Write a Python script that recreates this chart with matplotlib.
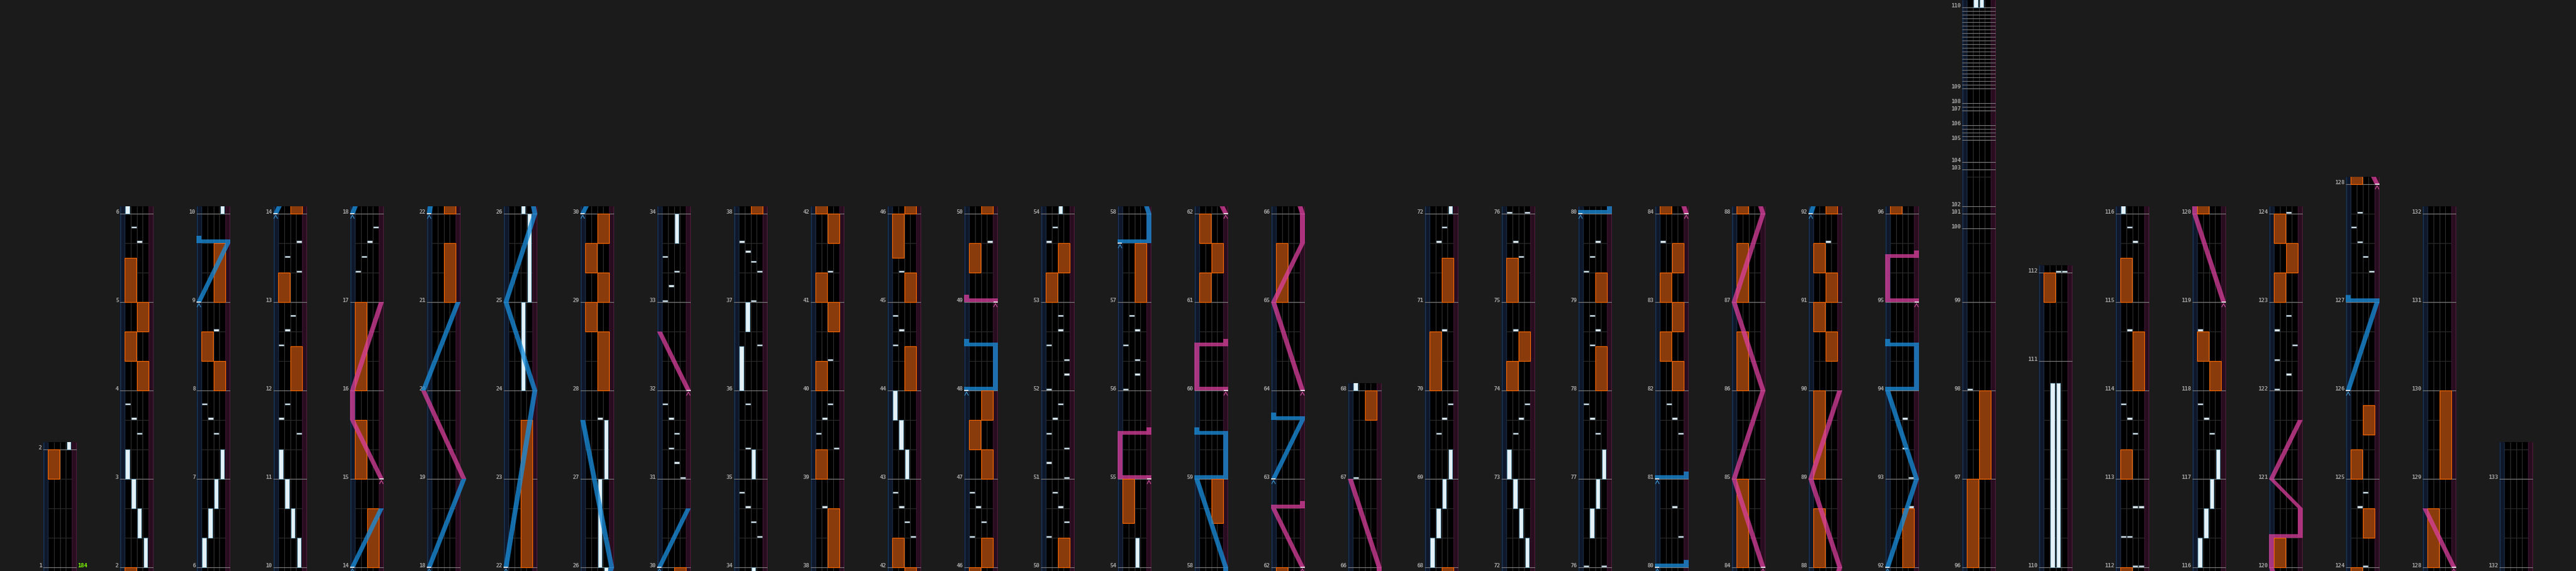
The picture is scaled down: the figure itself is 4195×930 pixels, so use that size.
import numpy as np
import matplotlib
matplotlib.use('Agg')
import matplotlib.pyplot as plt
from matplotlib.patches import Rectangle, PathPatch
from matplotlib.path import Path

# ---------------- chart data ----------------
last_measure = 133
# measure length in beats (all others are 3 beats)
measure_beats = {1: 4, 99: 2.5, 100: 0.5, 101: 0.24, 102: 1.26, 103: 0.25, 104: 0.75,
                 105: 0.5, 106: 0.5, 107: 0.25, 108: 0.5, 109: 2.75, 110: 7, 127: 4}
# extra grey lines: (measure, number of equal parts)
sub_divisions = [(105, 4), (107, 2), (109, 22)]
bpm_label = '184'

# one panel per column: first measure shown
col_start = [1, 2, 6, 10, 14, 18, 22, 26, 30, 34, 38, 42, 46, 50, 54, 58, 62, 66,
             68, 72, 76, 80, 84, 88, 92, 96, 110, 112, 116, 120, 124, 128, 132]
col_end = col_start[1:] + [133.333]

# BT long notes: (start, end, lane 0-3)
bt_holds = [
    (2.0, 2.333, 3), (2.333, 2.667, 2), (2.667, 3.0, 1), (3.0, 3.333, 0),
    (6.0, 6.333, 0), (6.333, 6.667, 1), (6.667, 7.0, 2), (7.0, 7.333, 3),
    (10.0, 10.333, 3), (10.333, 10.667, 2), (10.667, 11.0, 1), (11.0, 11.333, 0),
    (24.0, 25.0, 2), (25.0, 26.0, 3), (26.0, 27.0, 2), (27.0, 27.667, 3),
    (33.667, 34.0, 2), (35.0, 35.333, 2), (36.0, 36.5, 0), (36.667, 37.0, 1),
    (43.0, 43.333, 2), (43.333, 43.667, 1), (43.667, 44.0, 0),
    (54.0, 54.333, 2),
    (68.0, 68.333, 0), (68.333, 68.667, 1), (68.667, 69.0, 2), (69.0, 69.333, 3),
    (72.0, 72.333, 3), (72.333, 72.667, 2), (72.667, 73.0, 1), (73.0, 73.333, 0),
    (76.333, 76.667, 1), (76.667, 77.0, 2), (77.0, 77.333, 3),
    (110.0, 110.893, 1), (110.0, 110.893, 2),
    (116.0, 116.333, 0), (116.333, 116.667, 1), (116.667, 117.0, 2), (117.0, 117.333, 3),
]

# BT chips: (time, lane)
bt_chips = [
    (3.5, 2), (3.667, 1), (3.833, 0), (5.667, 2), (5.833, 1),
    (7.5, 2), (7.667, 1), (7.833, 0), (8.667, 2),
    (11.5, 3), (11.667, 0), (11.833, 1), (12.5, 0), (12.667, 1), (12.833, 2),
    (13.333, 3), (13.5, 1), (13.667, 3),
    (17.333, 0), (17.5, 1), (17.667, 2), (17.833, 3),
    (27.667, 2),
    (31.0, 3), (31.167, 2), (31.333, 1), (31.5, 2), (31.667, 1), (31.833, 0),
    (33.0, 0), (33.167, 1), (33.333, 2), (33.5, 0),
    (34.333, 3), (34.5, 2), (34.667, 1), (34.833, 0), (35.333, 1), (35.833, 1),
    (36.5, 3), (37.0, 2), (37.333, 3), (37.444, 2), (37.556, 1), (37.667, 0),
    (38.667, 1), (39.333, 3), (39.5, 0), (39.667, 1), (39.833, 2), (40.333, 2), (41.333, 2),
    (42.333, 3), (42.5, 2), (42.667, 1), (42.833, 0), (44.5, 0), (44.667, 1), (44.833, 0),
    (45.333, 1), (46.333, 0), (46.5, 2), (46.667, 1), (46.833, 0), (49.667, 3),
    (50.333, 0), (50.5, 3), (50.667, 2), (50.833, 1),
    (51.0, 3), (51.167, 0), (51.333, 3), (51.5, 0), (51.667, 1), (51.833, 2),
    (52.0, 0), (52.167, 3), (52.333, 3), (52.5, 0), (52.667, 2), (52.833, 2),
    (53.667, 0), (53.833, 1),
    (56.0, 0), (56.167, 2), (56.333, 2), (56.5, 0), (56.667, 2), (56.833, 1),
    (67.0, 0), (69.5, 1), (69.667, 2), (69.833, 3), (70.667, 2), (71.667, 1), (71.833, 2),
    (73.5, 1), (73.667, 2), (73.833, 3), (74.667, 1), (75.5, 2), (75.667, 1),
    (76.0, 0), (76.0, 3), (77.5, 2), (77.667, 1), (77.833, 0),
    (78.5, 1), (78.667, 2), (78.833, 1), (79.333, 0), (79.5, 1), (79.667, 2),
    (80.333, 3), (80.667, 2), (81.5, 3), (81.667, 2), (81.833, 1), (83.667, 0),
    (91.667, 2), (92.667, 3), (93.0, 3), (93.333, 2), (93.667, 2), (98.0, 0),
    (112.0, 2), (112.0, 3), (112.333, 0), (112.333, 1), (112.667, 2), (112.667, 3),
    (113.5, 2), (113.667, 1), (113.833, 0), (114.667, 1), (115.667, 2), (115.833, 1),
    (117.5, 2), (117.667, 1), (117.833, 0), (118.667, 0),
    (122.0, 0), (122.167, 2), (122.333, 0), (122.5, 3), (122.667, 0), (122.833, 2),
    (124.0, 2), (124.667, 1), (124.833, 2),
    (127.25, 3), (127.375, 2), (127.5, 1), (127.625, 0), (127.75, 1),
]

# FX long notes: (start, end, side 0=left 1=right)
fx_holds = [
    (1.75, 2.0, 0),
    (4.0, 4.333, 1), (4.333, 4.667, 0), (4.667, 5.0, 1), (5.0, 5.5, 0),
    (8.0, 8.333, 1), (8.333, 8.667, 0), (9.0, 9.667, 1),
    (12.0, 12.5, 1), (13.0, 13.333, 0),
    (14.0, 14.667, 1), (15.0, 15.667, 0), (16.0, 17.0, 0),
    (21.0, 21.667, 1), (22.0, 23.667, 1),
    (28.0, 28.667, 1), (28.667, 29.0, 0), (29.0, 29.333, 1), (29.333, 29.667, 0), (29.667, 30.0, 1),
    (38.0, 38.667, 1), (39.0, 39.333, 0), (40.0, 40.333, 0), (40.667, 41.0, 1),
    (41.0, 41.333, 0), (41.667, 42.0, 1),
    (42.0, 42.333, 0), (44.0, 44.5, 1), (45.0, 45.333, 1), (45.5, 46.0, 0),
    (46.0, 46.333, 1), (47.0, 47.333, 1), (47.333, 47.667, 0), (47.667, 48.0, 1), (49.333, 49.667, 0),
    (50.0, 50.333, 1), (53.0, 53.333, 0), (53.333, 53.667, 1),
    (54.5, 55.0, 0), (57.0, 57.667, 1),
    (58.5, 59.0, 1), (61.0, 61.333, 0), (61.333, 61.667, 1), (61.667, 62.0, 0),
    (65.0, 65.667, 0), (67.667, 68.0, 1),
    (70.0, 70.667, 0), (71.0, 71.5, 1),
    (74.0, 74.333, 0), (74.333, 74.667, 1), (75.0, 75.5, 0),
    (78.0, 78.5, 1), (79.0, 79.333, 1),
    (82.0, 82.333, 1), (82.333, 82.667, 0), (82.667, 83.0, 1), (83.0, 83.333, 0), (83.333, 83.667, 1),
    (84.0, 85.0, 0), (86.0, 86.667, 0), (87.0, 87.667, 0),
    (88.0, 88.667, 0), (89.0, 90.0, 0), (90.333, 90.667, 1), (90.667, 91.0, 0),
    (91.0, 91.333, 1), (91.333, 91.667, 0),
    (92.0, 92.667, 1), (96.0, 97.0, 0), (97.0, 98.0, 1),
    (111.667, 112.0, 0),
    (113.0, 113.333, 0), (114.0, 114.667, 1), (115.0, 115.5, 0),
    (118.0, 118.333, 1), (118.333, 118.667, 0),
    (120.0, 120.333, 0), (123.0, 123.333, 0), (123.333, 123.667, 1), (123.667, 124.0, 0),
    (124.333, 124.667, 1), (125.0, 125.333, 0), (125.5, 125.833, 1),
    (128.0, 128.667, 0), (129.0, 130.0, 1),
]

# lasers: lists of (time, position 0=left .. 1=right)
laser_left = [
    [(9.0, 0), (9.667, 1), (9.667, 0), (9.75, 0)],
    [(14.0, 0), (14.667, 1)],
    [(18.0, 0), (19.0, 1.2)],
    [(20.0, -0.2), (21.0, 1)],
    [(22.0, 0), (24.0, 1), (25.0, 0), (26.0, 1), (27.667, 0)],
    [(30.0, 0), (30.667, 1)],
    [(48.0, 0), (48.0, 1), (48.5, 1), (48.5, 0), (48.583, 0)],
    [(57.667, 0), (57.667, 1), (58.0, 1), (59.0, 0), (59.0, 1), (59.5, 1), (59.5, 0), (59.583, 0)],
    [(63.0, 0), (63.667, 1), (63.667, 0), (63.75, 0)],
    [(80.0, 0), (80.0, 1), (80.083, 1)],
    [(81.0, 0), (81.0, 1), (81.083, 1)],
    [(92.0, 0), (93.0, 1), (94.0, 0), (94.0, 1), (94.5, 1), (94.5, 0), (94.583, 0)],
    [(126.0, 0), (127.0, 1), (127.0, 0), (127.06, 0)],
]
laser_right = [
    [(15.0, 1), (15.667, 0), (16.0, 0), (17.0, 1)],
    [(19.0, 1.2), (20.0, -0.2)],
    [(32.0, 1), (32.667, 0)],
    [(49.0, 1), (49.0, 0), (49.083, 0)],
    [(55.0, 1), (55.0, 0), (55.5, 0), (55.5, 1), (55.583, 1)],
    [(60.0, 1), (60.0, 0), (60.5, 0), (60.5, 1), (60.583, 1)],
    [(62.0, 1), (62.667, 0), (62.667, 1), (62.75, 1)],
    [(64.0, 1), (65.0, 0), (65.667, 1), (66.0, 1), (67.0, 0)],
    [(84.0, 1), (85.0, 0), (86.0, 1), (87.0, 0), (88.0, 1), (89.0, 0), (90.0, 1)],
    [(95.0, 1), (95.0, 0), (95.5, 0), (95.5, 1), (95.583, 1)],
    [(119.0, 1), (120.0, 0), (120.333, 0), (120.333, 1), (120.667, 1), (121.0, 0), (121.667, 1)],
    [(128.0, 1), (128.667, 0)],
]

# ---------------- layout ----------------
W, H = 4195, 930
PX_BEAT = 48          # pixels per beat
X_FIRST, X_STEP, PANEL_W = 70, 125, 55
LANE_L, LANE_R = -0.77, 4.77
LASER_W = 0.8

m_len = {m: measure_beats.get(m, 3) for m in range(1, last_measure + 2)}
m_start = {}
acc = 0.0
for m in range(1, last_measure + 2):
    m_start[m] = acc
    acc += m_len[m]


def beat(t):
    m = int(np.floor(t + 1e-6))
    return m_start[m] + (t - m) * m_len[m]


def laser_path(points):
    span = (LANE_R - LANE_L) - LASER_W
    verts, codes = [], []
    for (t0, p0), (t1, p1) in zip(points[:-1], points[1:]):
        b0, b1 = beat(t0), beat(t1)
        xa, xb = LANE_L + p0 * span, LANE_L + p1 * span
        if abs(b1 - b0) < 1e-6:
            lo, hi = min(xa, xb), max(xa, xb) + LASER_W
            quad = [(lo, b0), (hi, b0), (hi, b0 + 0.125), (lo, b0 + 0.125)]
        else:
            quad = [(xa, b0), (xa + LASER_W, b0), (xb + LASER_W, b1), (xb, b1)]
        verts += quad + [quad[0]]
        codes += [Path.MOVETO, Path.LINETO, Path.LINETO, Path.LINETO, Path.CLOSEPOLY]
    return Path(verts, codes)


fig = plt.figure(figsize=(W / 100, H / 100), dpi=100, facecolor='#1b1b1b')

for i, (s, e) in enumerate(zip(col_start, col_end)):
    y0 = beat(s) - 6 / PX_BEAT
    y1 = beat(e) + 12 / PX_BEAT
    ax = fig.add_axes([(X_FIRST + X_STEP * i) / W, 0, PANEL_W / W, (y1 - y0) * PX_BEAT / H])
    ax.set_xlim(LANE_L, LANE_R)
    ax.set_ylim(y0, y1)
    ax.set_axis_off()

    # lane backgrounds
    ax.add_patch(Rectangle((LANE_L, y0), -LANE_L, y1 - y0, fc='#0f182b', ec='none', zorder=0))
    ax.add_patch(Rectangle((0, y0), 4, y1 - y0, fc='black', ec='none', zorder=0))
    ax.add_patch(Rectangle((4, y0), LANE_R - 4, y1 - y0, fc='#280d1e', ec='none', zorder=0))
    ax.vlines([1, 2, 3], y0, y1, colors='#303030', lw=0.75, zorder=1)
    ax.vlines([LANE_L + 0.06], y0, y1, colors='#1e3a5a', lw=0.9, zorder=1)
    ax.vlines([0], y0, y1, colors='#1b2b42', lw=0.9, zorder=1)
    ax.vlines([4], y0, y1, colors='#3b1531', lw=0.9, zorder=1)
    ax.vlines([LANE_R - 0.06], y0, y1, colors='#4f1c3d', lw=0.9, zorder=1)

    # beat and bar lines
    bars, beats_ = [], []
    for m in range(int(s), int(np.floor(e)) + 1):
        bars.append(m)
        k = 1
        while k < m_len[m] - 1e-6:
            beats_.append(m_start[m] + k)
            k += 1
    ax.hlines(beats_, 0, 4, colors='#2c2c2c', lw=0.75, zorder=1)
    extra = []
    for m, n in sub_divisions:
        if s <= m < e:
            extra += [m_start[m] + m_len[m] * k / n for k in range(1, n)]
    ax.hlines(extra, LANE_L, LANE_R, colors='#7a7a7a', lw=0.75, zorder=1.5)
    ax.hlines([m_start[m] for m in bars], LANE_L, LANE_R, colors='#808080', lw=0.8, zorder=1.5)
    for m in bars:
        ax.text(LANE_L - 0.17, m_start[m], str(m), ha='right', va='baseline',
                fontsize=6.5, color='#a6a6a6', fontweight='bold',
                family='DejaVu Sans Mono', clip_on=False)
    if i == 0:
        ax.text(LANE_R + 0.12, m_start[s], bpm_label, ha='left', va='baseline',
                fontsize=6.5, color='#7fff00', fontweight='bold',
                family='DejaVu Sans Mono', clip_on=False)

    # FX long notes
    for t0, t1, side in fx_holds:
        b0, b1 = beat(t0), beat(t1)
        if b1 < y0 or b0 > y1:
            continue
        ax.add_patch(Rectangle((0.05 + 2 * side, b0), 1.9, b1 - b0, fc='#8a3b0c',
                               ec='#ff6a00', lw=0.8, zorder=2))

    # BT long notes
    for t0, t1, lane in bt_holds:
        b0, b1 = beat(t0), beat(t1)
        if b1 < y0 or b0 > y1:
            continue
        ax.add_patch(Rectangle((lane + 0.15, b0), 0.65, b1 - b0, fc='#e4f1f7',
                               ec='#74a6bf', lw=0.7, zorder=3))

    # BT chips
    for t, lane in bt_chips:
        b = beat(t)
        if b < y0 - 0.2 or b > y1:
            continue
        ax.add_patch(Rectangle((lane + 0.1, b + 0.012), 0.8, 0.06, fc='#eef6fa',
                               ec='#8aa6b6', lw=0.5, zorder=4))

    # lasers
    clip = Rectangle((-3, y0), 10.5, y1 - y0, transform=ax.transData)
    for paths, color, mark in [(laser_left, (0.10, 0.55, 0.85, 0.78), '#3c8fc4'),
                               (laser_right, (0.86, 0.25, 0.62, 0.75), '#c44e96')]:
        for pts in paths:
            if beat(pts[-1][0]) < y0 or beat(pts[0][0]) > y1:
                continue
            patch = PathPatch(laser_path(pts), fc=color, ec='none', zorder=5)
            ax.add_patch(patch)
            patch.set_clip_path(clip)
            # start marker
            t, p = pts[0]
            b = beat(t)
            xl = LANE_L + p * ((LANE_R - LANE_L) - LASER_W)
            ax.hlines([b], xl + 0.05, xl + LASER_W - 0.05, colors='white', lw=1.1, zorder=6)
            xc = xl + LASER_W / 2
            ax.plot([xc - 0.28, xc, xc + 0.28], [b - 0.16, b - 0.05, b - 0.16],
                    color=mark, lw=0.9, zorder=6)

fig.savefig('out.png', dpi=100, facecolor=fig.get_facecolor())
